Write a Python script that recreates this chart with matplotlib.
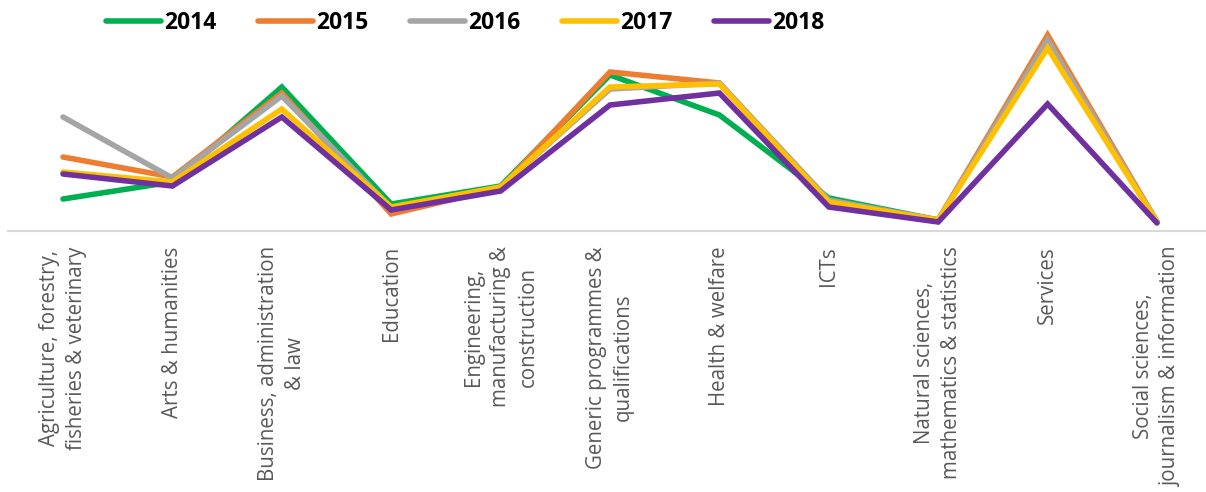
import matplotlib
matplotlib.use("Agg")
import matplotlib.pyplot as plt
import numpy as np

# categories along the x axis
fields = ['Agriculture, forestry,\nfisheries & veterinary', 'Arts & humanities',
          'Business, administration\n& law', 'Education',
          'Engineering,\nmanufacturing &\nconstruction', 'Generic programmes &\nqualifications',
          'Health & welfare', 'ICTs', 'Natural sciences,\nmathematics & statistics',
          'Services', 'Social sciences,\njournalism & information']

# values per year (arbitrary units)
y2014 = [32, 49, 144, 27, 45, 156, 116, 33, 11, 189, 9]
y2015 = [74, 54, 138, 17, 43, 159, 148, 29, 11, 196, 9]
y2016 = [114, 53, 135, 23, 44, 142, 148, 31, 11, 191, 9]
y2017 = [59, 49, 122, 24, 44, 144, 147, 29, 11, 183, 9]
y2018 = [57, 45, 114, 21, 40, 126, 138, 24, 9, 127, 8]

years = ['2014', '2015', '2016', '2017', '2018']
colors = ['#00b050', '#ed7d31', '#a5a5a5', '#ffc000', '#7030a0']
series = [y2014, y2015, y2016, y2017, y2018]

plt.rcParams['font.family'] = ['Open Sans', 'DejaVu Sans']

fig = plt.figure(figsize=(12.06, 4.92), dpi=100)
ax = fig.add_axes([8/1206, 1 - 231/492, 1198/1206, 211/492])

x = np.arange(len(fields))
for yr, c, vals in zip(years, colors, series):
    ax.plot(x, vals, color=c, lw=4, label=yr, solid_capstyle='round', solid_joinstyle='miter')

ax.set_xlim(-0.503, 10.448)
ax.set_ylim(0, 211)
ax.set_yticks([])
for s in ['top', 'right', 'left']:
    ax.spines[s].set_visible(False)
ax.spines['bottom'].set_color('#d9d9d9')
ax.spines['bottom'].set_linewidth(1.5)

ax.set_xticks(x)
ax.set_xticklabels(fields, rotation=90, ha='center', va='top', color='#595959',
                   fontsize=14.8, linespacing=1.4)
ax.tick_params(axis='x', length=0, pad=11)

fig.legend(loc='center', bbox_to_anchor=(465/1206, 1 - 23/492), ncol=5, frameon=False,
           prop={'weight': 'bold', 'size': 16.5}, handlelength=2.4, handletextpad=0.15,
           columnspacing=1.8, borderaxespad=0)

fig.savefig('out.png', dpi=100)
